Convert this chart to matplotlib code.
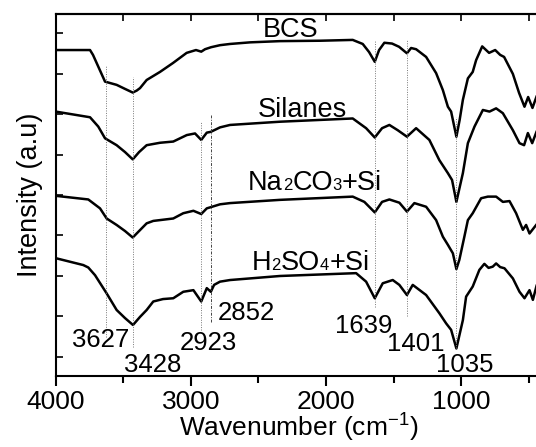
import matplotlib
matplotlib.use("Agg")
import matplotlib.pyplot as plt
from matplotlib.ticker import MultipleLocator, NullFormatter

plt.rcParams['font.family'] = ['Liberation Sans', 'DejaVu Sans']
plt.rcParams['mathtext.default'] = 'regular'

# FTIR spectra (stacked, arbitrary units)
bcs_wn = [4000, 3746, 3724, 3697, 3635, 3549, 3487, 3430, 3400, 3376, 3327, 3228, 3132, 3031,
          2962, 2923, 2895, 2850, 2784, 2710, 2561, 2340, 2043, 1802, 1728, 1681, 1639, 1607,
          1568, 1511, 1459, 1401, 1370, 1333, 1259, 1185, 1135, 1098, 1074, 1035, 1011, 987,
          950, 914, 889, 844, 793, 748, 711, 682, 617, 571, 531, 504, 472, 440]
bcs_int = [7.58, 7.58, 7.46, 7.26, 6.80, 6.72, 6.62, 6.53, 6.58, 6.64, 6.84, 7.04, 7.26, 7.51,
           7.58, 7.54, 7.60, 7.65, 7.70, 7.73, 7.77, 7.80, 7.81, 7.83, 7.73, 7.53, 7.29, 7.58,
           7.76, 7.74, 7.66, 7.50, 7.63, 7.60, 7.41, 7.01, 6.59, 6.18, 6.06, 5.44, 5.85, 6.35,
           6.88, 7.04, 7.33, 7.67, 7.51, 7.58, 7.46, 7.41, 6.99, 6.52, 6.18, 6.42, 6.15, 6.45]

silanes_wn = [4000, 3746, 3685, 3635, 3549, 3487, 3430, 3383, 3327, 3228, 3130, 3030, 2969,
              2923, 2882, 2852, 2784, 2710, 2340, 1802, 1703, 1639, 1585, 1531, 1469, 1401,
              1333, 1235, 1161, 1098, 1067, 1035, 987, 950, 901, 839, 790, 741, 691, 617,
              568, 534, 506, 474, 440]
silanes_int = [6.06, 5.92, 5.69, 5.40, 5.23, 5.06, 4.88, 5.06, 5.23, 5.29, 5.32, 5.48, 5.52,
               5.36, 5.54, 5.56, 5.67, 5.73, 5.81, 5.89, 5.65, 5.42, 5.65, 5.73, 5.60, 5.44,
               5.65, 5.36, 4.86, 4.54, 4.37, 3.83, 4.54, 5.28, 5.69, 6.10, 6.06, 6.14, 6.02, 5.60,
               5.28, 5.23, 5.53, 5.28, 5.58]

na2co3_wn = [4000, 3759, 3672, 3623, 3549, 3487, 3430, 3383, 3327, 3278, 3130, 3056, 2981,
             2923, 2882, 2852, 2784, 2710, 2340, 1802, 1716, 1639, 1585, 1531, 1457, 1401,
             1346, 1259, 1185, 1135, 1098, 1061, 1035, 1013, 976, 950, 914, 852, 802, 741,
             691, 642, 593, 543, 519, 494, 440]
na2co3_int = [3.98, 3.89, 3.67, 3.42, 3.26, 3.11, 2.95, 3.11, 3.30, 3.36, 3.42, 3.55, 3.61,
              3.53, 3.67, 3.70, 3.77, 3.80, 3.88, 3.96, 3.83, 3.57, 3.83, 3.89, 3.81, 3.59,
              3.80, 3.71, 3.38, 2.97, 2.77, 2.56, 2.17, 2.40, 2.97, 3.38, 3.55, 3.92, 3.96, 3.96,
              3.83, 3.85, 3.55, 3.14, 3.26, 3.05, 3.28]

h2so4_wn = [4000, 3796, 3759, 3709, 3623, 3549, 3487, 3428, 3376, 3327, 3278, 3206, 3130,
            3056, 2981, 2923, 2882, 2852, 2828, 2784, 2710, 2340, 1777, 1703, 1639, 1580,
            1506, 1457, 1401, 1358, 1259, 1161, 1111, 1074, 1035, 987, 963, 914, 865, 828,
            797, 766, 741, 711, 679, 617, 568, 531, 494, 469, 440]
h2so4_int = [2.44, 2.27, 2.21, 2.02, 1.57, 1.16, 0.96, 0.79, 0.99, 1.16, 1.37, 1.43, 1.45,
             1.61, 1.65, 1.37, 1.70, 1.61, 1.78, 1.86, 1.90, 2.00, 2.07, 1.86, 1.45, 1.82,
             1.90, 1.78, 1.53, 1.78, 1.53, 1.08, 0.83, 0.67, 0.21, 0.91, 1.49, 1.74, 2.15, 2.30,
             2.20, 2.23, 2.31, 2.22, 2.19, 1.94, 1.61, 1.45, 1.65, 1.41, 1.78]

# Sample names, split into (text, is_subscript) pieces, with left baseline anchor
series_names = [
    [('BCS', False)],
    [('Silanes', False)],
    [('Na', False), ('2', True), ('CO', False), ('3', True), ('+Si', False)],
    [('H', False), ('2', True), ('SO', False), ('4', True), ('+Si', False)],
]
series_label_pos = [(2467, 7.90), (2502, 5.93), (2577, 4.12), (2549, 2.15)]

# Marked absorption bands: wavenumber, guide-line extent, label anchor
band_wn = [3627, 3428, 2923, 2852, 1639, 1401, 1035]
band_top = [7.21, 6.91, 5.83, 5.98, 7.83, 7.83, 5.93]
band_bottom = [0.49, 0.25, 0.67, 0.86, 1.23, 1.00, 0.22]
band_label_pos = [(3665, 0.25), (3280, -0.37), (2873, 0.17), (2592, 0.91),
                  (1718, 0.59), (1333, 0.15), (971, -0.37)]

BIG, SMALL = 19.5, 12

fig = plt.figure(figsize=(5.36, 4.47), dpi=100)
ax = fig.add_axes([55.7 / 536, 71 / 447, 486.5 / 536, 362 / 447])

for wn, val in [(bcs_wn, bcs_int), (silanes_wn, silanes_int),
                (na2co3_wn, na2co3_int), (h2so4_wn, h2so4_int)]:
    ax.plot(wn, val, color='black', lw=1.8, solid_joinstyle='round', solid_capstyle='round')

for wn, top, bot in zip(band_wn, band_top, band_bottom):
    if wn == 2852:
        ax.vlines(wn, bot, top, colors='#444444', lw=0.7, linestyles=(0, (3, 1.5, 1, 1.5)))
    else:
        ax.vlines(wn, bot, top, colors='#777777', lw=0.7, linestyles=(0, (1, 1.5)))

for wn, (lx, ly) in zip(band_wn, band_label_pos):
    ax.text(lx, ly, str(wn), fontsize=18.5, ha='center', va='baseline')

# sample names with baseline-level subscripts
for pieces, (lx, ly) in zip(series_names, series_label_pos):
    prev = None
    for txt, sub in pieces:
        size = SMALL if sub else BIG
        if prev is None:
            prev = ax.text(lx, ly, txt, fontsize=size, ha='left', va='baseline')
        else:
            prev = ax.annotate(txt, xy=(1, ly), xycoords=(prev, 'data'),
                               fontsize=size, ha='left', va='baseline')

ax.set_xlim(4000, 400)
ax.set_ylim(-0.47, 8.47)

for s in ax.spines.values():
    s.set_linewidth(1.5)

ax.xaxis.set_major_locator(MultipleLocator(1000))
ax.xaxis.set_minor_locator(MultipleLocator(500))
ax.tick_params(axis='x', which='major', direction='out', length=7, width=1.5,
               labelsize=19, pad=3, top=False)
ax.tick_params(axis='x', which='minor', direction='out', length=5, width=1.5, top=False)

ax.yaxis.set_major_locator(MultipleLocator(1))
ax.yaxis.set_major_formatter(NullFormatter())
ax.tick_params(axis='y', which='major', direction='in', length=5, width=1.2)

top = ax.secondary_xaxis('top')
top.xaxis.set_major_locator(MultipleLocator(500))
top.xaxis.set_major_formatter(NullFormatter())
top.tick_params(direction='in', length=5, width=1.2)
top.spines['top'].set_linewidth(1.5)

ax.set_xlabel('Wavenumber (cm$^{-1}$)', fontsize=19, labelpad=-1.5)
ax.set_ylabel('Intensity (a.u)', fontsize=19.5, labelpad=6)

fig.savefig('out.png', dpi=100)
